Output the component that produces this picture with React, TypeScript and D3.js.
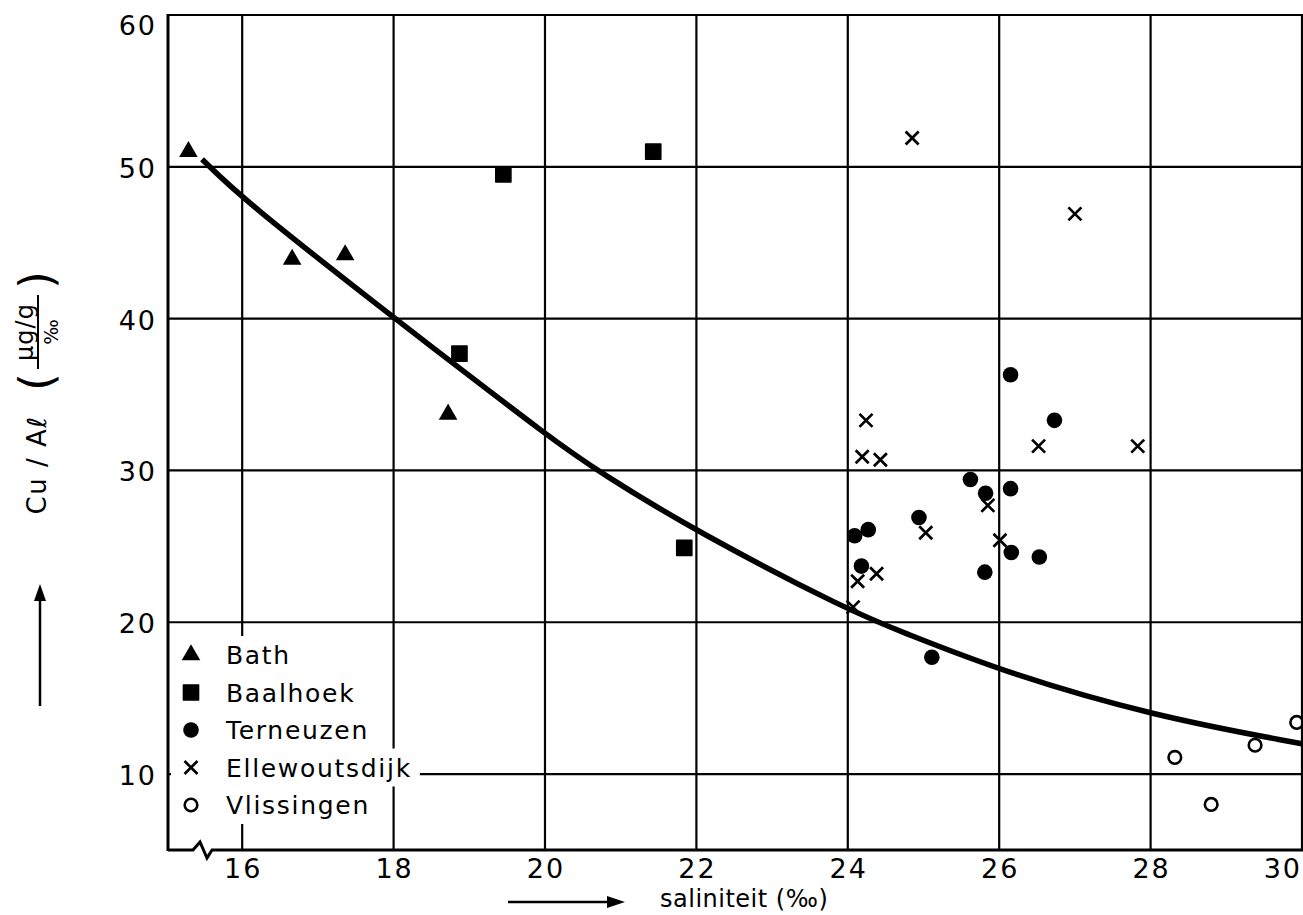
import React, { useEffect, useRef } from "react";
import * as d3 from "d3";

// Salinity (‰) and Cu/Al ratio per station
const bath: [number, number][] = [
  [15.29, 51.0], [16.66, 43.9], [17.36, 44.2], [18.72, 33.7],
];
const baalhoek: [number, number][] = [
  [19.45, 49.5], [21.43, 51.0], [18.87, 37.7], [21.84, 24.9],
];
const terneuzen: [number, number][] = [
  [26.15, 36.3], [26.73, 33.3], [25.62, 29.4], [25.82, 28.5], [26.15, 28.8],
  [24.94, 26.9], [24.27, 26.1], [24.09, 25.7], [26.16, 24.6], [26.53, 24.3],
  [24.18, 23.7], [25.81, 23.3], [25.11, 17.7],
];
const ellewoutsdijk: [number, number][] = [
  [24.85, 51.9], [27.0, 46.9], [24.24, 33.3], [24.19, 30.9], [24.43, 30.7],
  [26.52, 31.6], [27.83, 31.6], [25.85, 27.7], [25.03, 25.9], [26.01, 25.4],
  [24.38, 23.2], [24.13, 22.7], [24.07, 21.0],
];
const vlissingen: [number, number][] = [
  [28.32, 11.1], [28.8, 8.0], [29.38, 11.9], [29.93, 13.4],
];
// Fitted mixing curve
const fitCurve: [number, number][] = [
  [15.47, 50.5], [16.02, 47.8], [18.02, 40.0], [18.71, 37.35], [20.03, 32.3],
  [20.71, 29.9], [22.01, 25.95], [24.04, 20.7], [24.7, 19.4], [26.04, 16.75],
  [28.05, 13.8], [30.0, 12.0],
];
const xTicks = [16, 18, 20, 22, 24, 26, 28, 30];
const yTicks = [10, 20, 30, 40, 50, 60];
const legendNames = ["Bath", "Baalhoek", "Terneuzen", "Ellewoutsdijk", "Vlissingen"];

const W = 1303;
const H = 915;
const FONT = "'DejaVu Sans', sans-serif";

export default function App() {
  const ref = useRef<SVGSVGElement>(null);

  useEffect(() => {
    const svg = d3.select(ref.current);
    svg.selectAll("*").remove();

    const x = d3.scaleLinear().domain([15.02, 30]).range([168, 1302]);
    const y = d3.scaleLinear().domain([5, 60]).range([850, 15]);

    svg.append("rect").attr("width", W).attr("height", H).attr("fill", "#fff");

    // grid
    const grid = svg.append("g").attr("stroke", "#000").attr("stroke-width", 2.2);
    xTicks.forEach((t) => {
      grid.append("line").attr("x1", x(t)).attr("x2", x(t)).attr("y1", y(60)).attr("y2", y(5));
    });
    yTicks.forEach((t) => {
      grid.append("line").attr("x1", x(15.02)).attr("x2", W).attr("y1", y(t)).attr("y2", y(t));
    });

    // axes: left border and broken bottom axis
    svg.append("line").attr("x1", 168).attr("x2", 168).attr("y1", y(60) - 1).attr("y2", y(5) + 1)
      .attr("stroke", "#000").attr("stroke-width", 3);
    svg.append("path")
      .attr("d", `M168,${y(5)} L193,${y(5)} L200,${y(5) - 8} L207,${y(5) + 8} L212,${y(5)} L${W},${y(5)}`)
      .attr("fill", "none").attr("stroke", "#000").attr("stroke-width", 3);

    // tick labels
    const ticksG = svg.append("g").attr("font-family", FONT).attr("font-size", 27)
      .attr("letter-spacing", 2).attr("fill", "#000");
    xTicks.forEach((t, i) => {
      const last = i === xTicks.length - 1;
      ticksG.append("text")
        .attr("x", last ? W - 1 : x(t) + 1)
        .attr("y", 878)
        .attr("text-anchor", last ? "end" : "middle")
        .text(String(t));
    });
    yTicks.forEach((t) => {
      ticksG.append("text").attr("x", 157).attr("y", t === 60 ? 35 : y(t) + 11)
        .attr("text-anchor", "end").text(String(t));
    });

    // fitted curve
    const line = d3.line<[number, number]>()
      .x((d) => x(d[0])).y((d) => y(d[1]))
      .curve(d3.curveBasis);
    svg.append("path").attr("d", line(fitCurve) || "")
      .attr("fill", "none").attr("stroke", "#000").attr("stroke-width", 5.5)
      .attr("stroke-linecap", "butt");

    // marker drawers
    const triPath = d3.symbol().type(d3.symbolTriangle).size(150)();
    const sqPath = d3.symbol().type(d3.symbolSquare).size(230)();
    const drawers: ((g: d3.Selection<SVGGElement, unknown, null, undefined>) => void)[] = [
      (g) => { g.append("path").attr("d", triPath).attr("fill", "#000"); },
      (g) => { g.append("path").attr("d", sqPath).attr("fill", "#000").attr("stroke", "#000").attr("stroke-width", 1.5).attr("stroke-linejoin", "round"); },
      (g) => { g.append("circle").attr("r", 7.8).attr("fill", "#000"); },
      (g) => {
        g.append("path").attr("d", "M-6.5,-6.5L6.5,6.5M-6.5,6.5L6.5,-6.5")
          .attr("stroke", "#000").attr("stroke-width", 2.7).attr("fill", "none");
      },
      (g) => { g.append("circle").attr("r", 6.3).attr("fill", "none").attr("stroke", "#000").attr("stroke-width", 2.6); },
    ];
    const series = [bath, baalhoek, terneuzen, ellewoutsdijk, vlissingen];
    const pts = svg.append("g");
    series.forEach((data, i) => {
      data.forEach((d) => {
        const g = pts.append("g").attr("transform", `translate(${x(d[0])},${y(d[1])})`);
        drawers[i](g as any);
      });
    });

    // legend
    const legend = svg.append("g").attr("font-family", FONT).attr("font-size", 25)
      .attr("letter-spacing", 1.7);
    legendNames.forEach((name, i) => {
      const cy = 655 + i * 37.5;
      const row = legend.append("g");
      const bg = row.append("rect").attr("fill", "#fff");
      const mk = row.append("g").attr("transform", `translate(191,${cy})`);
      drawers[i](mk as any);
      const txt = row.append("text").attr("x", 226).attr("y", cy + 9).attr("fill", "#000").text(name);
      const bb = (txt.node() as SVGTextElement).getBBox();
      bg.attr("x", 171).attr("y", cy - 19).attr("width", bb.x + bb.width + 8 - 171).attr("height", 38);
    });

    // y-axis title
    svg.append("text")
      .attr("transform", "translate(46,465) rotate(-90)")
      .attr("text-anchor", "middle").attr("font-family", FONT).attr("font-size", 26)
      .attr("letter-spacing", 1.5)
      .text("Cu / Aℓ");
    const unit = svg.append("g").attr("transform", "translate(38,332) rotate(-90)")
      .attr("font-family", FONT).attr("fill", "#000");
    unit.append("line").attr("x1", -37).attr("x2", 37).attr("y1", 0).attr("y2", 0)
      .attr("stroke", "#000").attr("stroke-width", 2);
    unit.append("text").attr("x", 0).attr("y", -5).attr("text-anchor", "middle").attr("font-size", 24)
      .attr("letter-spacing", 1).text("µg/g");
    unit.append("text").attr("x", 0).attr("y", 20).attr("text-anchor", "middle").attr("font-size", 19).text("‰");
    unit.append("text").attr("x", -50).attr("y", 14).attr("text-anchor", "middle").attr("font-size", 46).text("(");
    unit.append("text").attr("x", 52).attr("y", 14).attr("text-anchor", "middle").attr("font-size", 46).text(")");

    // y arrow
    svg.append("line").attr("x1", 40).attr("x2", 40).attr("y1", 706).attr("y2", 596)
      .attr("stroke", "#000").attr("stroke-width", 2.5);
    svg.append("path").attr("d", "M40,584 L34,601 L46,601 Z").attr("fill", "#000");

    // x-axis title and arrow
    svg.append("text").attr("x", 660).attr("y", 907).attr("font-family", FONT).attr("font-size", 24)
      .attr("letter-spacing", 0.5)
      .text("saliniteit (‰)");
    svg.append("line").attr("x1", 508).attr("x2", 612).attr("y1", 902).attr("y2", 902)
      .attr("stroke", "#000").attr("stroke-width", 2.5);
    svg.append("path").attr("d", "M625,902 L607,896 L607,908 Z").attr("fill", "#000");
  }, []);

  return (
    <svg
      ref={ref}
      width={W}
      height={H}
      style={{ position: "absolute", left: 0, top: 0, display: "block" }}
    />
  );
}
